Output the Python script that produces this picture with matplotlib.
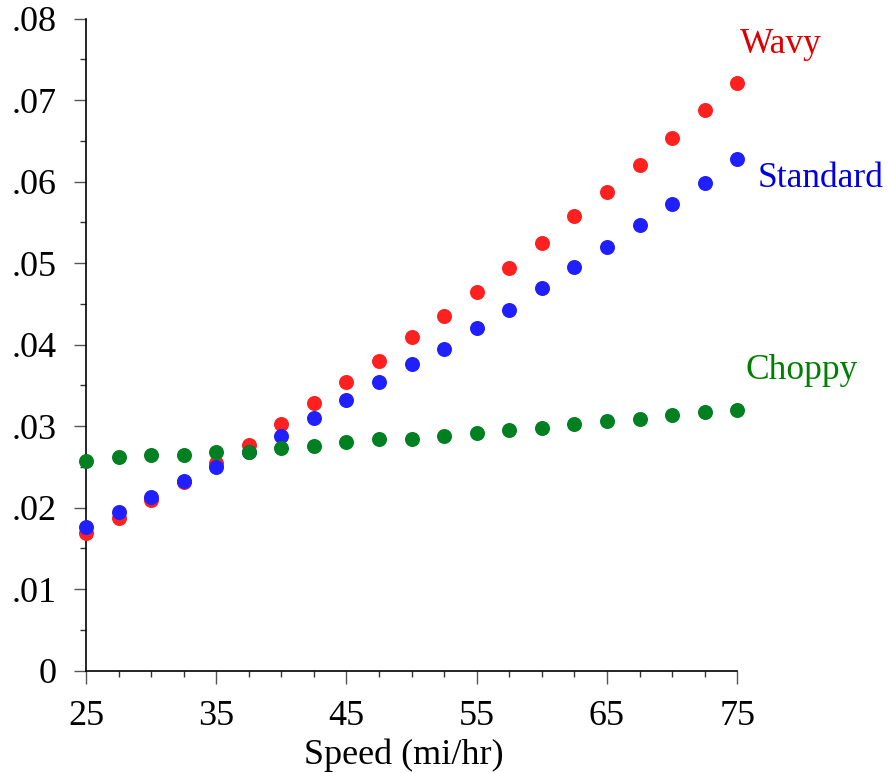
import matplotlib
matplotlib.use("Agg")
import matplotlib.pyplot as plt
from matplotlib.ticker import MultipleLocator, FuncFormatter

speed = [25 + 2.5 * i for i in range(21)]
speed_ticks = [25, 35, 45, 55, 65, 75]

wavy = [0.0169, 0.0187, 0.0209, 0.0231, 0.0255, 0.0277, 0.0302, 0.0328, 0.0354,
        0.0380, 0.0409, 0.0435, 0.0464, 0.0494, 0.0525, 0.0558, 0.0587, 0.0620,
        0.0654, 0.0688, 0.0721]
standard = [0.0176, 0.0194, 0.0213, 0.0232, 0.0250, 0.0268, 0.0288, 0.0310, 0.0332,
            0.0354, 0.0376, 0.0394, 0.0420, 0.0442, 0.0469, 0.0495, 0.0520, 0.0547,
            0.0572, 0.0598, 0.0628]
choppy = [0.0257, 0.0262, 0.0265, 0.0265, 0.0268, 0.0268, 0.0273, 0.0276, 0.0280,
          0.0284, 0.0284, 0.0288, 0.0291, 0.0295, 0.0298, 0.0302, 0.0306, 0.0309,
          0.0313, 0.0317, 0.0320]

series = [
    ("Wavy", wavy, "#ff2020", "#dd0000", (75.2, 0.0768)),
    ("Standard", standard, "#2020ff", "#0000dd", (76.6, 0.0604)),
    ("Choppy", choppy, "#008020", "#008000", (75.6, 0.0368)),
]

plt.rcParams["font.family"] = ["Liberation Serif", "DejaVu Serif"]

fig = plt.figure(figsize=(8.88, 7.73), dpi=100)
ax = fig.add_axes([0.0968, 0.1326, 0.7334, 0.8434])

for name, vals, col, tcol, pos in series:
    ax.plot(speed, vals, linestyle="none", marker="o", markersize=10.8,
            markerfacecolor=col, markeredgecolor="none", clip_on=False, zorder=3)
    ax.text(pos[0], pos[1], name, color=tcol, fontsize=25.5, ha="left", va="center",
            clip_on=False)

ax.set_xlim(25, 75)
ax.set_ylim(0, 0.08)
for s in ("top", "right"):
    ax.spines[s].set_visible(False)
ax.spines["left"].set_linewidth(1.2)
ax.spines["bottom"].set_linewidth(1.2)

ax.set_xticks(speed_ticks)
ax.set_xticklabels([str(v) for v in speed_ticks])
ax.xaxis.set_minor_locator(MultipleLocator(2.5))
ax.yaxis.set_major_locator(MultipleLocator(0.01))
ax.yaxis.set_minor_locator(MultipleLocator(0.005))


def yfmt(v, _):
    if abs(v) < 1e-12:
        return "0"
    return ("%.2f" % v).lstrip("0")


ax.yaxis.set_major_formatter(FuncFormatter(yfmt))
ax.tick_params(axis="both", which="major", length=9, width=1, direction="out",
               labelsize=26, color="#555555")
ax.tick_params(axis="both", which="minor", length=4.5, width=1, direction="out",
               color="#333333")
ax.tick_params(axis="y", which="major", pad=12)
ax.tick_params(axis="x", which="major", pad=12)

ax.set_xlabel("Speed (mi/hr)", fontsize=26)
ax.xaxis.label.set_verticalalignment("center")
ax.xaxis.set_label_coords(0.488, -0.13)

fig.savefig("out.png", dpi=100)
